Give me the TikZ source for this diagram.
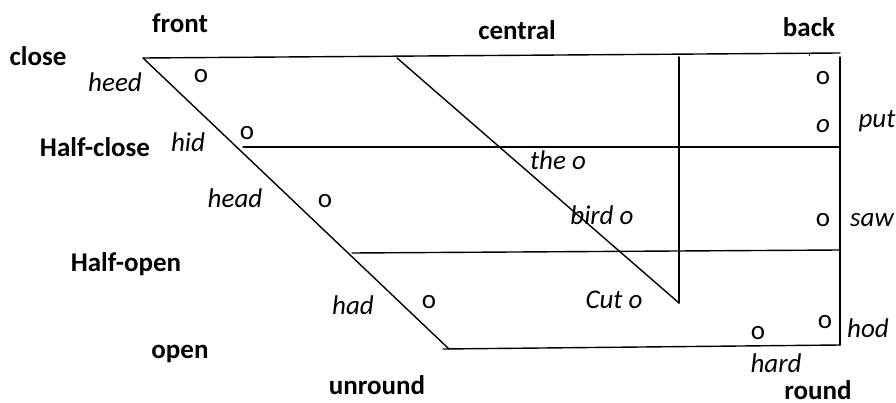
\documentclass[tikz,border=0pt]{standalone}
\usepackage{fontspec}
\setmainfont{Carlito}
\usepackage{tikz}
\usetikzlibrary{positioning}

\begin{document}
\begin{tikzpicture}[
  x=1pt,y=-1pt,
  every node/.style={inner sep=0pt,anchor=base,font=\fontsize{27}{31}\selectfont},
  level/.style={font=\fontsize{27}{31}\selectfont\bfseries},
  word/.style={font=\fontsize{27}{31}\selectfont\itshape},
  vowel/.style={font=\fontsize{27}{31}\selectfont},
  chartline/.style={line width=1.4pt,line cap=round}
]
\useasboundingbox (0,0) rectangle (896,403);
% corners of the chart
\coordinate (topL) at (143,58);
\coordinate (topR) at (840,53);
\coordinate (rightT) at (840,57);
\coordinate (rightB) at (840,345);
\coordinate (botL) at (443,349);
\coordinate (frontB) at (449,349);
\coordinate (cenT) at (397,58);
\coordinate (cenB) at (679,303);
\coordinate (cenV) at (679,57);
\coordinate (hcL) at (243,147);
\coordinate (hcR) at (840,147);
\coordinate (hoL) at (352,253);
\coordinate (hoR) at (840,250);
\coordinate (tickT) at (809,53);
\coordinate (tickB) at (809,56);

\draw[chartline] (topL) -- (topR);
\draw[chartline] (rightT) -- (rightB);
\draw[chartline] (botL) -- (rightB);
\draw[chartline] (topL) -- (frontB);
\draw[chartline] (cenT) -- (cenB);
\draw[chartline] (cenV) -- (cenB);
\draw[chartline] (hcL) -- (hcR);
\draw[chartline] (hoL) -- (hoR);
\draw[line width=1pt] (tickT) -- (tickB);

% heights and places
\node[level] (front) at (180,33) {front};
\node[level] (central) at (517,40) {central};
\node[level] (back) at (809,37) {back};
\node[level] (close) at (38,66) {close};
\node[level] (halfclose) at (95,157) {Half-close};
\node[level] (halfopen) at (126,272) {Half-open};
\node[level] (open) at (180,358) {open};
\node[level] (unround) at (377,394) {unround};
\node[level] (round) at (818,399) {round};

% key words
\node[word] (heed) at (115,92) {heed};
\node[word] (hid) at (188,152) {hid};
\node[word] (head) at (235,208) {head};
\node[word] (had) at (353,314) {had};
\node[word] (the) at (558,170) {the o};
\node[word] (bird) at (602,225) {bird o};
\node[word] (cut) at (614,308) {Cut o};
\node[word] (hard) at (776,372) {hard};
\node[word] (put) at (877,128) {put};
\node[word] (saw) at (872,227) {saw};
\node[word] (hod) at (868,337) {hod};

% vowel marks
\node[vowel] (iy) at (201,83) {o};
\node[vowel] (ih) at (247,140) {o};
\node[vowel] (eh) at (325,208) {o};
\node[vowel] (ae) at (429,308) {o};
\node[vowel] (uw) at (823,85) {o};
\node[word] (uh) at (823,133) {o};
\node[vowel] (ao) at (823,227) {o};
\node[vowel] (aa) at (825,328) {o};
\node[vowel] (ar) at (758,339) {o};
\end{tikzpicture}
\end{document}
